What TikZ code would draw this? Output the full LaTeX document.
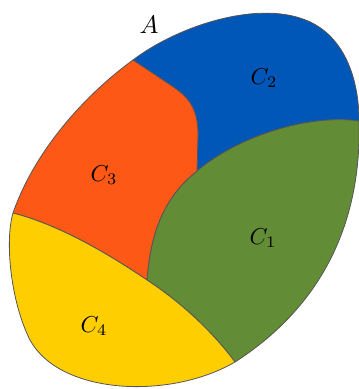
\documentclass[tikz,border=0pt]{standalone}
\definecolor{cblue}{RGB}{1,87,183}
\definecolor{cgreen}{RGB}{99,140,54}
\definecolor{corange}{RGB}{254,88,22}
\definecolor{cyellow}{RGB}{254,206,0}
\definecolor{cedge}{RGB}{85,85,85}
\tikzset{
  region/.style={draw=cedge, line width=0.8pt, line join=round},
  lbl/.style={inner sep=0pt, scale=2.3, transform shape=false},
}
\begin{document}
\begin{tikzpicture}[x=1pt,y=-1pt]
\useasboundingbox (0,0) rectangle (359,389);
\coordinate (A) at (133,60);
\coordinate (R) at (359,121);
\coordinate (M) at (197,171);
\coordinate (L) at (13,213);
\coordinate (J) at (147,280);
\coordinate (B) at (235,362);
% C2 blue
\path[region, fill=cblue] (A) .. controls (175,28) and (250,2) .. (300,18)
  .. controls (345,32) and (359,80) .. (R)
  .. controls (310,114) and (240,135) .. (M)
  -- (198,135) .. controls (198,110) and (190,98) .. (172,86) -- cycle;
% C1 green
\path[region, fill=cgreen] (M) .. controls (240,135) and (310,114) .. (R)
  .. controls (362,230) and (316,310) .. (B)
  .. controls (215,335) and (185,305) .. (J)
  .. controls (150,240) and (160,200) .. (M) -- cycle;
% C3 orange
\path[region, fill=corange] (L) .. controls (35,150) and (85,95) .. (A)
  -- (172,86) .. controls (190,98) and (198,110) .. (198,135) -- (M)
  .. controls (160,200) and (150,240) .. (J)
  .. controls (110,255) and (60,225) .. (L) -- cycle;
% C4 yellow
\path[region, fill=cyellow] (L) .. controls (60,225) and (110,255) .. (J)
  .. controls (185,305) and (215,335) .. (B)
  .. controls (170,400) and (60,395) .. (30,340)
  .. controls (10,300) and (5,240) .. (L) -- cycle;
\node[lbl, scale=1.1] (la) at (149,25) {$A$};
\node[lbl] (l2) at (264,78) {$C_2$};
\node[lbl] (l3) at (104,175) {$C_3$};
\node[lbl] (l1) at (263,238) {$C_1$};
\node[lbl] (l4) at (94,326) {$C_4$};
\end{tikzpicture}
\end{document}
